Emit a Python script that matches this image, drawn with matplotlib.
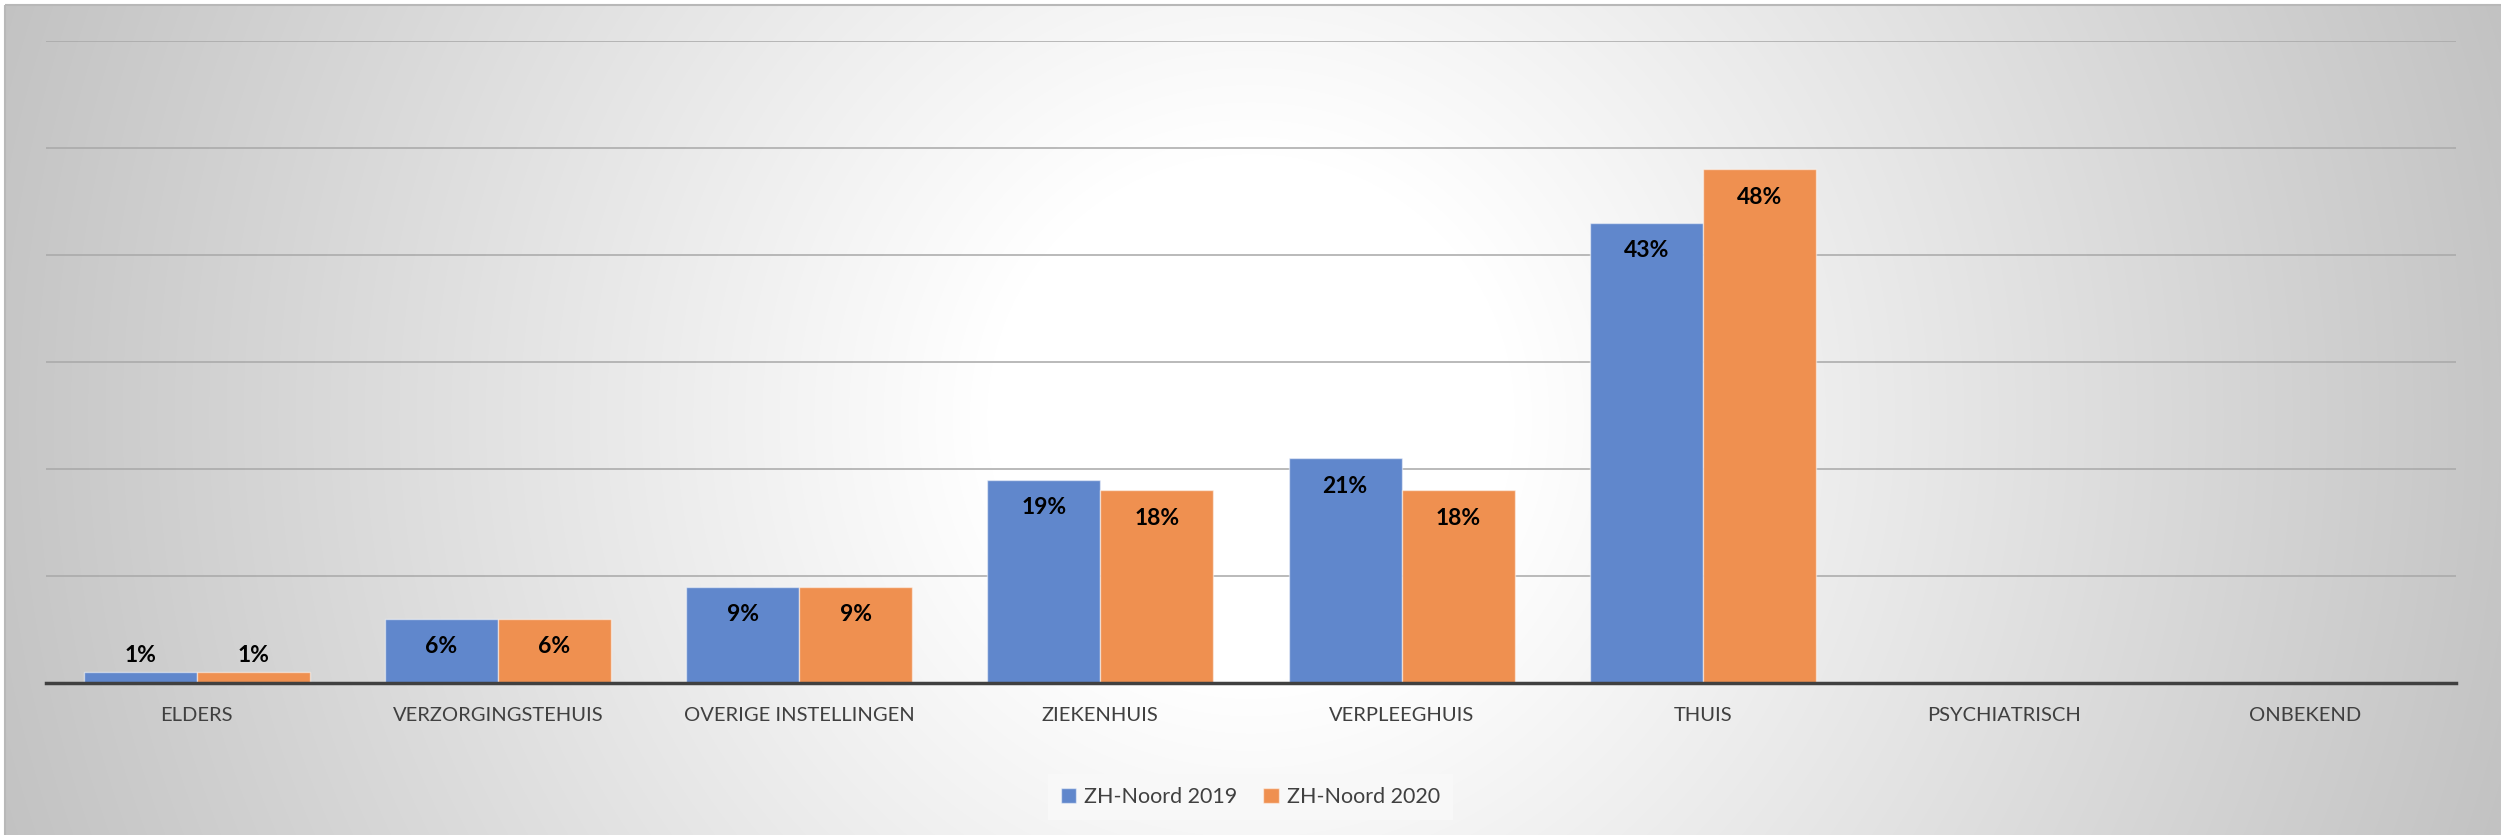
import numpy as np
import matplotlib
matplotlib.use("Agg")
from matplotlib import pyplot as plt
from matplotlib.patches import Rectangle

plt.rcParams['font.family'] = ['Lato', 'DejaVu Sans']

# plaats van overlijden, aandeel in procenten
categories = ["ELDERS", "VERZORGINGSTEHUIS", "OVERIGE INSTELLINGEN", "ZIEKENHUIS",
              "VERPLEEGHUIS", "THUIS", "PSYCHIATRISCH", "ONBEKEND"]
noord_2019 = [1, 6, 9, 19, 21, 43, 0, 0]
noord_2020 = [1, 6, 9, 18, 18, 48, 0, 0]
series_names = ["ZH-Noord 2019", "ZH-Noord 2020"]

blue = "#6087cc"
orange = "#ef9050"
W, H = 2501, 835

fig = plt.figure(figsize=(W / 100, H / 100), dpi=100)

# achtergrond: radiale verloop van wit in het midden naar grijs aan de randen
bg = fig.add_axes([0, 0, 1, 1], zorder=0)
bg.set_axis_off()
yy, xx = np.mgrid[0:H, 0:W]
r = np.hypot(xx - W / 2, yy - H / 2) / np.hypot(W / 2, H / 2)
shade = 255 - (255 - 194) * np.clip((r - 0.2) / 0.8, 0, 1)
img = np.dstack([shade, shade, shade]) / 255.0
img[:5, :] = 1.0
img[:, :5] = 1.0
bg.imshow(img, aspect="auto", extent=[0, W, H, 0], interpolation="bilinear")
bg.add_patch(Rectangle((5, 5), W, H, fill=False, edgecolor="#b8b8b8", lw=1.5))
bg.set_xlim(0, W)
bg.set_ylim(H, 0)

ax = fig.add_axes([46 / W, 152 / H, (2456 - 46) / W, (683 - 41) / H], zorder=1)
ax.patch.set_alpha(0)

x = np.arange(len(categories))
bw = 0.375
b1 = ax.bar(x - bw / 2, noord_2019, bw, color=blue, edgecolor=(1, 1, 1, 0.5), lw=1,
            label=series_names[0], zorder=3)
b2 = ax.bar(x + bw / 2, noord_2020, bw, color=orange, edgecolor=(1, 1, 1, 0.5), lw=1,
            label=series_names[1], zorder=3)

# waardelabels, binnen de staaf tenzij die te laag is
for bars, vals in ((b1, noord_2019), (b2, noord_2020)):
    for bar, v in zip(bars, vals):
        if v == 0:
            continue
        cx = bar.get_x() + bar.get_width() / 2
        off = 12 if v < 3 else -20
        ax.annotate(f"{v}%", (cx, v), xytext=(0, off), textcoords="offset points",
                    ha="center", va="center", fontsize=16.5, fontweight="bold",
                    color="black", zorder=4)

ax.set_xlim(-0.5, len(categories) - 0.5)
ax.set_ylim(0, 60)
ax.set_yticks(np.arange(10, 61, 10))
ax.yaxis.grid(True, color="#a8a8a8", lw=1.3, alpha=0.85, zorder=1)
ax.tick_params(axis="y", left=False, labelleft=False)
ax.set_xticks(x)
ax.set_xticklabels(categories, fontsize=14.5, color="#404040")
ax.tick_params(axis="x", length=0, pad=17)
for s in ("top", "right", "left"):
    ax.spines[s].set_visible(False)
ax.spines["bottom"].set_color("#404040")
ax.spines["bottom"].set_linewidth(2.5)
ax.spines["bottom"].set_zorder(5)

leg = fig.legend(loc="center", bbox_to_anchor=(0.5, 38 / H), ncol=2, fontsize=15.5,
                 frameon=True, fancybox=False, facecolor="#f8f8f8", edgecolor="none",
                 framealpha=1, handlelength=0.7, handleheight=0.7, handletextpad=0.4,
                 columnspacing=1.2, borderpad=0.6)
for t in leg.get_texts():
    t.set_color("#404040")

fig.savefig("out.png", dpi=100)
